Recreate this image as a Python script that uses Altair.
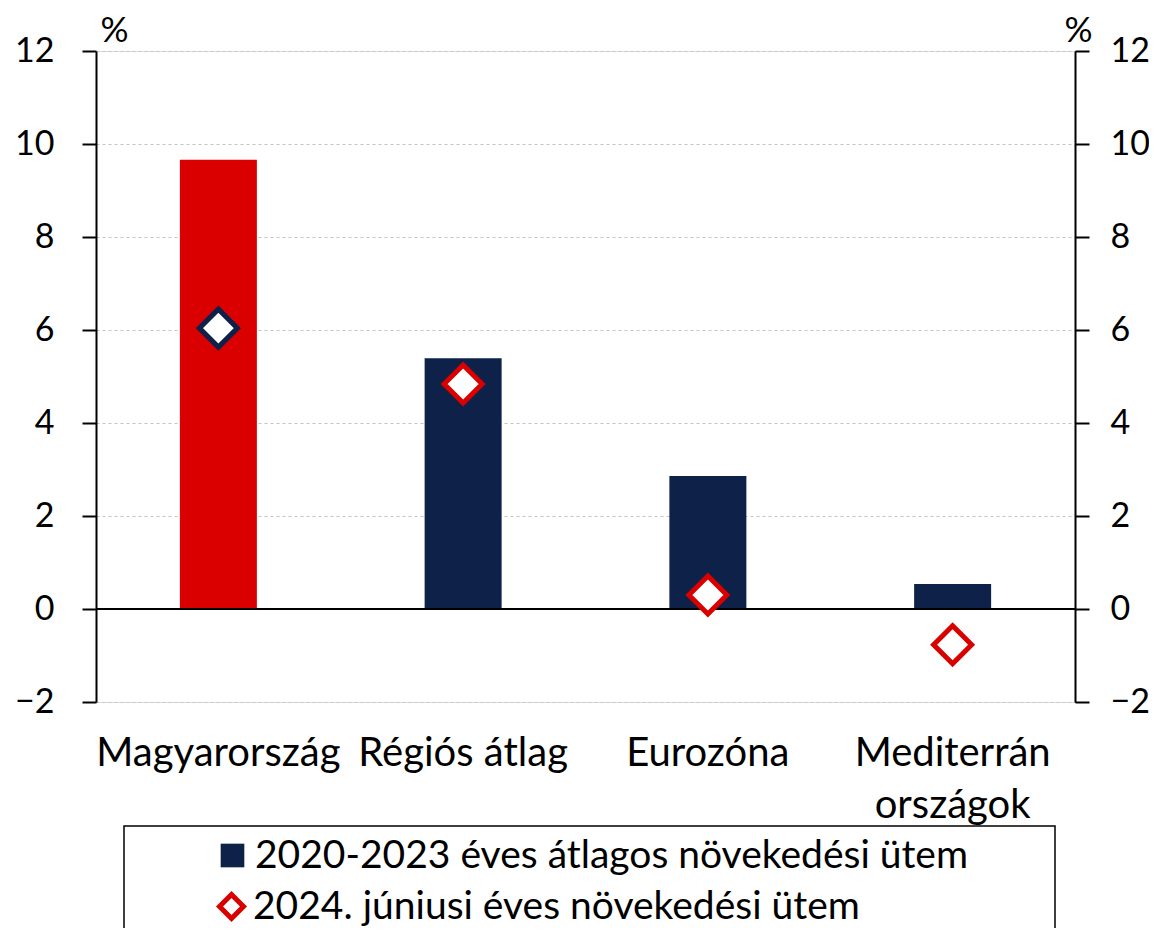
import altair as alt
import pandas as pd

categories = ["Magyarország", "Régiós átlag", "Eurozóna", "Mediterrán országok"]
avg_2020_2023 = [9.66, 5.39, 2.86, 0.54]
june_2024 = [6.04, 4.84, 0.30, -0.77]
series_names = ["2020-2023 éves átlagos növekedési ütem", "2024. júniusi éves növekedési ütem"]
y_ticks = [-2, 0, 2, 4, 6, 8, 10, 12]
highlight = "Magyarország"

RED = "#da0000"
NAVY = "#0d2149"
FONT = "Lato"
W, H = 979, 651
YDOM = [-2, 12]

bars_df = pd.DataFrame({"category": categories, "value": avg_2020_2023, "series": series_names[0]})
pts_df = pd.DataFrame({"category": categories, "value": june_2024, "series": series_names[1]})
box_df = pd.DataFrame({"k": [0]})

xaxis = alt.Axis(
    title=None, labelAngle=0, ticks=False, domain=False, grid=False,
    labelFontSize=40, labelPadding=31, labelColor="black", labelFont=FONT,
    labelLimit=500, labelLineHeight=52, labelBaseline="top",
    labelExpr="datum.label == 'Mediterrán országok' ? ['Mediterrán', 'országok'] : datum.label",
)
xenc = alt.X("category:N", sort=categories,
             scale=alt.Scale(paddingInner=0, paddingOuter=0), axis=xaxis)

common_y_axis = dict(
    values=y_ticks, format="d", title="%", titleAngle=0, titleAlign="center",
    titleBaseline="middle", titleFontSize=35, titleFontWeight="normal", titleFont=FONT,
    titleColor="black", titleY=-21,
    tickSize=14, tickColor="black", tickWidth=2, domainColor="black", domainWidth=2,
    labelFontSize=34, labelFont=FONT, labelColor="black",
)

bars = alt.Chart(bars_df).mark_bar(size=77).encode(
    x=xenc,
    y=alt.Y("value:Q", scale=alt.Scale(domain=YDOM, nice=False, zero=False),
            axis=alt.Axis(orient="left", titleX=18, grid=True, gridDash=[3, 3],
                          gridColor="#c4c4c4", gridWidth=1, labelPadding=28, **common_y_axis)),
    color=alt.condition(
        f"datum.category == '{highlight}'",
        alt.value(RED),
        alt.Color("series:N", scale=alt.Scale(domain=[series_names[0]], range=[NAVY]),
                  legend=alt.Legend(title=None, orient="none", legendX=117, legendY=785,
                                    symbolType="square", symbolSize=560, symbolStrokeWidth=0,
                                    labelFontSize=39, labelFont=FONT, labelColor="black",
                                    labelOffset=3, labelLimit=1000, padding=0)),
    ),
)

zero = alt.Chart(bars_df).mark_rule(color="black", strokeWidth=2).encode(
    y=alt.YDatum(0, scale=alt.Scale(domain=YDOM, nice=False, zero=False), axis=None),
)

pt_legend = alt.Legend(title=None, orient="none", legendX=116, legendY=836,
                       symbolType="diamond",
                       symbolSize=576, symbolStrokeColor=RED, symbolFillColor="white",
                       symbolStrokeWidth=5, symbolOpacity=1,
                       labelFontSize=39, labelFont=FONT, labelColor="black",
                       labelOffset=2, labelLimit=1000, padding=0)

points = alt.Chart(pts_df).mark_point(filled=False, fill="white", fillOpacity=1, size=1444,
                                      strokeWidth=5, opacity=1).encode(
    x=xenc,
    y=alt.Y("value:Q", scale=alt.Scale(domain=YDOM, nice=False, zero=False),
            axis=alt.Axis(orient="right", titleX=3, grid=False, labelPadding=21, **common_y_axis)),
    shape=alt.Shape("series:N", scale=alt.Scale(domain=[series_names[1]], range=["diamond"]),
                    legend=pt_legend),
    stroke=alt.condition(
        f"datum.category == '{highlight}'",
        alt.value(NAVY),
        alt.Stroke("series:N", scale=alt.Scale(domain=[series_names[1]], range=[RED]),
                   legend=pt_legend),
    ),
)

box = alt.Chart(box_df).mark_rect(fill="white", fillOpacity=0, stroke="black", strokeWidth=1.5).encode(
    x=alt.value(28), x2=alt.value(959), y=alt.value(775), y2=alt.value(1000),
)

chart = alt.layer(bars, zero, points, box).resolve_scale(y="independent").properties(
    width=W, height=H,
    autosize=alt.AutoSizeParams(type="none"),
    padding={"left": 88, "top": 43, "right": 74, "bottom": 226},
).configure_view(stroke="black", strokeWidth=2).configure(font=FONT)

chart.save("out.html", embed_options={"renderer": "svg", "actions": False})
